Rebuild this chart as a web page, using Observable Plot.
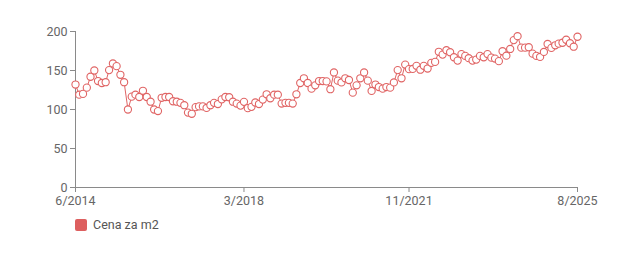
<!DOCTYPE html>
<html><head><meta charset="utf-8">
<script src="https://cdn.jsdelivr.net/npm/d3@7"></script>
<script src="https://cdn.jsdelivr.net/npm/@observablehq/plot@0.6"></script>
<style>
body{margin:0;background:#fff;font-family:Roboto, "Noto Sans", sans-serif;}
#chart{width:620px;}
.legend{display:flex;align-items:center;margin-left:75px;margin-top:8px;font-size:12.5px;color:#555;line-height:14px;}
.sw{width:12px;height:12px;border-radius:2px;background:#dd5f5f;margin-right:6px;}
</style></head><body><div id="chart"></div>
<script>
const seriesName = "Cena za m2";
const startYear = 2014, startMonthIndex = 5; // June 2014, monthly points
const values = [132,119,120,128,142,150,136.5,134,135,150.5,159,155.6,144.5,135,100,116.5,119,116,124,116,110,100,98,115,116,116,110.6,110,108.5,105.5,96,94.5,103,104,104,102,105.5,108.5,107,113,116,115.7,110,107.6,105,109.8,101.7,103.4,109,107,112.7,119.5,114.4,119,119,107.6,108.5,108.5,107.6,119.5,134,140,134,126.7,131,136.5,136.5,136,126,147.5,137,134.7,140,137.8,121.6,131,140,147.5,137,123.8,132,128.8,126.7,128.8,128,134.7,150.5,140,157.6,151.7,152,156,151,156,152.5,159.8,161,174,170.4,176,173.4,167,162.7,171,168.7,165.8,162.7,164,168.7,167,171,166.5,165.3,162,174.7,169,177.6,189,194,179.3,179.3,179.8,171.6,168.7,167.4,173.8,184,179,182.3,184.4,185.6,189.4,185,180.5,193.3];
const tickMonths = [[2014,5],[2018,2],[2021,10],[2025,7]];
const tickLabels = ["6/2014","3/2018","11/2021","8/2025"];
const yTicks = [0,50,100,150,200];

const start = new Date(Date.UTC(startYear, startMonthIndex, 1));
const data = values.map((v,i)=>({date: d3.utcMonth.offset(start,i), value: v}));
const tickDates = tickMonths.map(([y,m])=>new Date(Date.UTC(y,m,1)));
const labelFor = d => { const i = tickDates.findIndex(t=>+t===+d); return i>=0 ? tickLabels[i] : ""; };
const red = "#e06464";
const axisColor = "#8a8a8a";

const chart = Plot.plot({
  width: 620, height: 210,
  marginLeft: 75, marginRight: 43, marginTop: 31, marginBottom: 23,
  style: {fontFamily: "Roboto, 'Noto Sans', sans-serif", fontSize: "12.5px", color: "#666", background: "#fff", overflow: "visible"},
  x: {type: "utc", domain: [data[0].date, data[data.length-1].date]},
  y: {domain: [0,200]},
  marks: [
    Plot.ruleX([data[0].date], {stroke: axisColor, y1: 0, y2: 200}),
    Plot.ruleY([0], {stroke: axisColor}),
    Plot.axisY({ticks: yTicks, label: null, tickSize: 5, tickPadding: 3, stroke: axisColor, fill: "#666"}),
    Plot.axisX({ticks: tickDates, tickFormat: labelFor, label: null, tickSize: 5, tickPadding: 4, stroke: axisColor, fill: "#666"}),
    Plot.line(data, {x: "date", y: "value", stroke: red, strokeWidth: 1}),
    Plot.dot(data, {x: "date", y: "value", r: 3.6, fill: "white", stroke: red, strokeWidth: 1.1})
  ]
});
document.getElementById("chart").append(chart);
const lg = document.createElement("div");
lg.className = "legend";
lg.innerHTML = `<span class="sw"></span><span>${seriesName}</span>`;
document.getElementById("chart").append(lg);
</script>
</body></html>
